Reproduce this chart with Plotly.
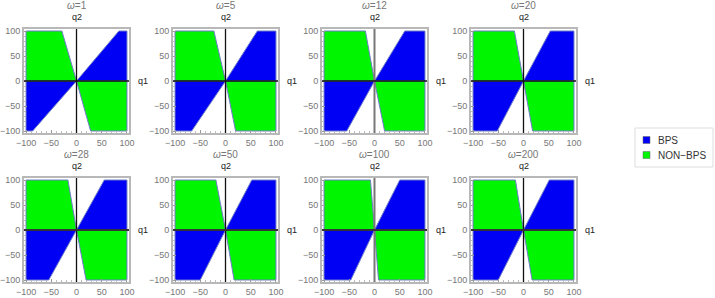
import plotly.graph_objects as go

# ---- data ----
omega = [1, 5, 12, 20, 28, 50, 100, 200]
# x-position of the region boundary at q2 = +100 / q2 = -100
green_top = [-29, -23, -18, -18, -17, -19, -8, -16]
green_bot = [28, 20, 20, 18, 19, 17, 8, 17]
blue_top = [84, 63, 60, 53, 55, 52, 50, 51]
blue_bot = [-87, -67, -55, -52, -55, -50, -47, -50]
tick_vals = [-100, -50, 0, 50, 100]
tick_text = ["\u2212100", "\u221250", "0", "50", "100"]
legend_names = ["BPS", "NON\u2212BPS"]

# ---- styling ----
W, H = 715, 298
BLUE = "rgb(0,0,245)"
GREEN = "rgb(0,245,0)"
EDGE = "rgb(110,125,200)"
col_left = [24, 173, 322, 471]
row_top = [29, 178]
PW, PH = 105, 104
R = 104

fig = go.Figure()
shapes = []
annotations = []

for i, w in enumerate(omega):
    r, c = divmod(i, 4)
    n = i + 1
    xs = "x" if n == 1 else f"x{n}"
    ys = "y" if n == 1 else f"y{n}"
    polys = [
        ([0, blue_top[i], 100, 100, 0], [0, 100, 100, 0, 0], BLUE),
        ([0, blue_bot[i], -100, -100, 0], [0, -100, -100, 0, 0], BLUE),
        ([0, green_top[i], -100, -100, 0], [0, 100, 100, 0, 0], GREEN),
        ([0, green_bot[i], 100, 100, 0], [0, -100, -100, 0, 0], GREEN),
    ]
    for px, py, col in polys:
        fig.add_trace(go.Scatter(
            x=px, y=py, xaxis=xs, yaxis=ys, mode="lines", fill="toself",
            fillcolor=col, line=dict(color=EDGE, width=1),
            hoverinfo="skip", showlegend=False))

    l = col_left[c]
    t = row_top[r]
    axcommon = dict(
        range=[-R, R], tickvals=tick_vals, ticktext=tick_text,
        showgrid=False, zeroline=False, showline=True, mirror=True,
        linecolor="#b8b8b8", linewidth=2, ticks="inside", ticklen=3,
        tickcolor="#999", tickfont=dict(size=9, color="#777",
                                        family="Liberation Sans, Arial, sans-serif"),
        minor=dict(ticks="inside", ticklen=2, tickcolor="#bbb", dtick=10),
        fixedrange=True, layer="above traces", automargin=False)
    fig.layout[f"xaxis{'' if n == 1 else n}"] = dict(
        domain=[l / W, (l + PW) / W], anchor=ys, **axcommon)
    fig.layout[f"yaxis{'' if n == 1 else n}"] = dict(
        domain=[1 - (t + PH) / H, 1 - t / H], anchor=xs, **axcommon)

    vcol = "#777" if w in (12, 100) else "#111"
    vwid = 2 if w in (12, 100) else 1.3
    shapes.append(dict(type="line", xref=xs, yref=f"{ys} domain",
                       x0=0, x1=0, y0=0, y1=1, layer="above",
                       line=dict(color=vcol, width=vwid)))
    hcol = "#333" if r == 1 else "#111"
    hwid = 2 if r == 1 else 1.5
    shapes.append(dict(type="line", xref=f"{xs} domain", yref=ys,
                       x0=0, x1=1, y0=0, y1=0, layer="above",
                       line=dict(color=hcol, width=hwid)))

    annotations.append(dict(text=f"<i>\u03c9</i>=" + str(w), xref=xs, x=0,
                            xanchor="center", yanchor="middle",
                            yref="paper", y=1 - (t - 24) / H, showarrow=False,
                            font=dict(size=10, color="#777")))
    annotations.append(dict(text="q2", xref=xs, x=0, yref="paper",
                            xanchor="center", yanchor="middle",
                            y=1 - (t - 12) / H, showarrow=False,
                            font=dict(size=9, color="#222")))
    annotations.append(dict(text="q1", xref="paper", x=(l + PW + 14) / W,
                            xanchor="center", yanchor="middle",
                            yref=ys, y=0, showarrow=False,
                            font=dict(size=9, color="#222")))

# ---- legend (drawn manually) ----
shapes.append(dict(type="rect", xref="paper", yref="paper",
                   x0=635 / W, x1=713 / W, y0=1 - 167 / H, y1=1 - 128 / H,
                   line=dict(color="#ddd", width=1), fillcolor="white"))
for k, (name, col) in enumerate(zip(legend_names, [BLUE, GREEN])):
    cy = 140 + 15 * k
    shapes.append(dict(type="rect", xref="paper", yref="paper",
                       x0=643 / W, x1=650 / W, y0=1 - (cy + 3.5) / H,
                       y1=1 - (cy - 3.5) / H,
                       line=dict(color="#666", width=0.5), fillcolor=col))
    annotations.append(dict(text=name, xref="paper", x=656 / W, xanchor="left",
                            yanchor="middle",
                            yref="paper", y=1 - cy / H, showarrow=False,
                            font=dict(size=10, color="#333")))

fig.update_layout(
    width=W, height=H, margin=dict(l=0, r=0, t=0, b=0, autoexpand=False),
    plot_bgcolor="white", paper_bgcolor="white",
    font=dict(family="Liberation Sans, Arial, sans-serif"),
    shapes=shapes, annotations=annotations, showlegend=False)

fig.write_html("out.html", config={"displayModeBar": False},
               post_script="document.body.style.margin='0';"
                           "document.body.style.overflow='hidden';")
